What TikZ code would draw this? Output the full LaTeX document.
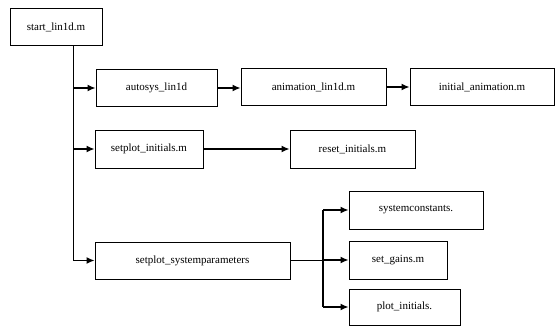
\documentclass[tikz,border=0pt]{standalone}
\usepackage{fontspec}
\setmainfont{Liberation Serif}
\usetikzlibrary{arrows.meta}
\begin{document}
\begin{tikzpicture}[x=1pt,y=-1pt,
  box/.style={draw=black,line width=0.8pt,minimum height=37pt,inner sep=0pt,font=\fontsize{11}{13}\selectfont},
  arr/.style={line width=1.5pt,-{Latex[length=8pt,width=7pt]}},
  ln/.style={line width=1.5pt},
  thin/.style={line width=0.8pt}]
\useasboundingbox (0,0) rectangle (558,326);
\node[box,minimum width=92pt] (start) at (56,27) {start\_lin1d.m};
\node[box,minimum width=121pt] (autosys) at (156.5,88) {autosys\_lin1d};
\node[box,minimum width=145pt] (anim) at (313.5,87) {animation\_lin1d.m};
\node[box,minimum width=144pt] (init) at (482,87) {initial\_animation.m};
\node[box,minimum width=108pt,minimum height=38pt] (spinit) at (149,149) {setplot\_initials.m};
\node[box,minimum width=125pt,minimum height=38pt] (reset) at (352.5,149) {reset\_initials.m};
\node[box,minimum width=195pt] (sysp) at (192.5,260.5) {setplot\_systemparameters};
\node[box,minimum width=134pt,minimum height=38pt] (sysc) at (416,210) {systemconstants.};
\node[box,minimum width=98pt,minimum height=38pt] (gains) at (398,260) {set\_gains.m};
\node[box,minimum width=111pt,minimum height=36pt] (pinit) at (404.5,307) {plot\_initials.};
\coordinate (trunk) at (73,0);
\coordinate (br) at (323,0);
\draw[thin] (start.south -| trunk) -- (sysp.west -| trunk);
\draw[arr] (autosys.west -| trunk) -- (autosys.west);
\draw[arr] (spinit.west -| trunk) -- (spinit.west);
\draw[arr] (sysp.west -| trunk) -- (sysp.west);
\draw[arr] (autosys.east) -- (anim.west |- autosys.east);
\draw[arr] (anim.east) -- (init.west);
\draw[arr] (spinit.east) -- (reset.west);
\draw[thin] (sysp.east) -- (sysp.east -| br);
\draw[ln] (sysc.west -| br) -- (pinit.west -| br);
\draw[arr] (sysc.west -| br) -- (sysc.west);
\draw[arr] (gains.west -| br) -- (gains.west);
\draw[arr] (pinit.west -| br) -- (pinit.west);
\end{tikzpicture}
\end{document}
